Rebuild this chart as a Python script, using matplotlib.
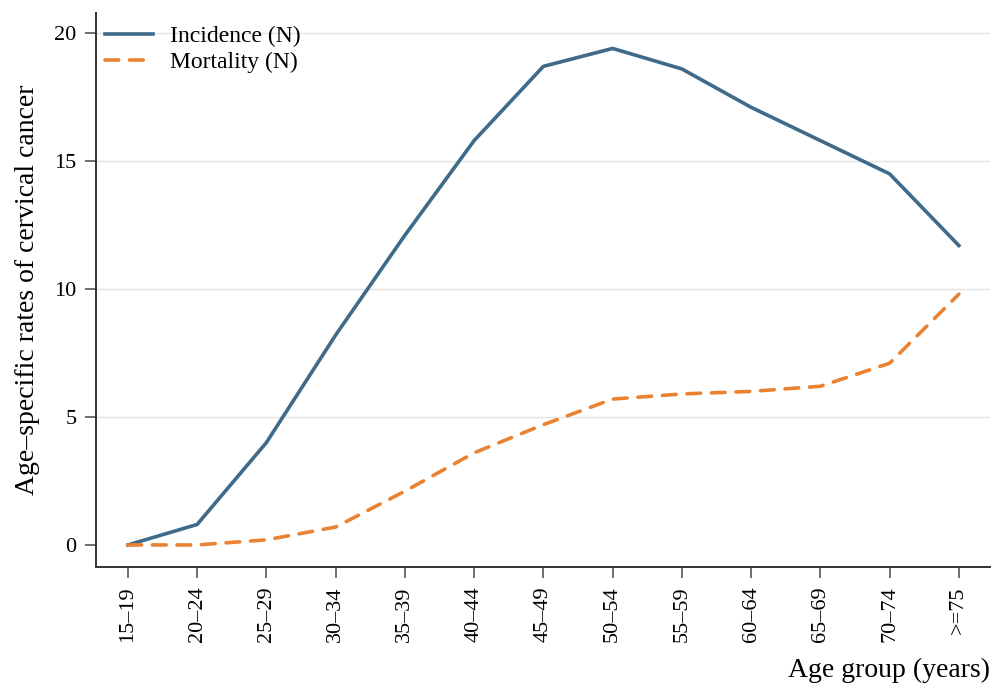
import matplotlib.pyplot as plt
import numpy as np

# age groups and rates
age_groups = ["15\u201319", "20\u201324", "25\u201329", "30\u201334", "35\u201339", "40\u201344",
              "45\u201349", "50\u201354", "55\u201359", "60\u201364", "65\u201369", "70\u201374", ">=75"]
incidence = [0.0, 0.8, 4.0, 8.2, 12.1, 15.8, 18.7, 19.4, 18.6, 17.1, 15.8, 14.5, 11.7]
mortality = [0.0, 0.0, 0.2, 0.7, 2.1, 3.6, 4.7, 5.7, 5.9, 6.0, 6.2, 7.1, 9.8]
y_ticks = [0, 5, 10, 15, 20]

plt.rcParams["font.family"] = ["Liberation Serif", "DejaVu Serif"]

fig = plt.figure(figsize=(9.95, 6.91), dpi=100)
ax = fig.add_axes([0.0965, 0.1795, 0.8985, 0.8015])

x = np.arange(len(age_groups))
ax.plot(x, incidence, color="#3f6a8a", lw=2.6, label="Incidence (N)",
        solid_joinstyle="round")
ax.plot(x, mortality, color="#ea8231", lw=2.6, ls=(0, (3.8, 3.0)), label="Mortality (N)",
        dash_capstyle="round")

ax.set_xlim(-0.46, 12.45)
ax.set_ylim(-0.86, 20.78)
ax.set_xticks(x)
ax.set_xticklabels(age_groups, rotation=90, fontsize=16)
ax.set_yticks(y_ticks)
ax.set_yticklabels([str(t) for t in y_ticks], fontsize=16)

for t in y_ticks[1:]:
    ax.axhline(t, color="#e3e3e3", lw=1, zorder=0)

for side in ["top", "right"]:
    ax.spines[side].set_visible(False)
for side in ["left", "bottom"]:
    ax.spines[side].set_color("#333333")
    ax.spines[side].set_linewidth(1.4)
ax.tick_params(direction="out", length=8, width=1.2, color="#555555", pad=6)

ax.set_ylabel("Age\u2013specific rates of cervical cancer", fontsize=20, labelpad=10)
fig.text(0.995, 0.012, "Age group (years)", fontsize=20, ha="right", va="bottom")

ax.legend(loc="upper left", frameon=False, fontsize=17, handlelength=2.0,
          handletextpad=0.75, borderaxespad=0.0, labelspacing=0.2,
          bbox_to_anchor=(0.0, 0.995))

fig.savefig("out.png", dpi=100, facecolor="white")
